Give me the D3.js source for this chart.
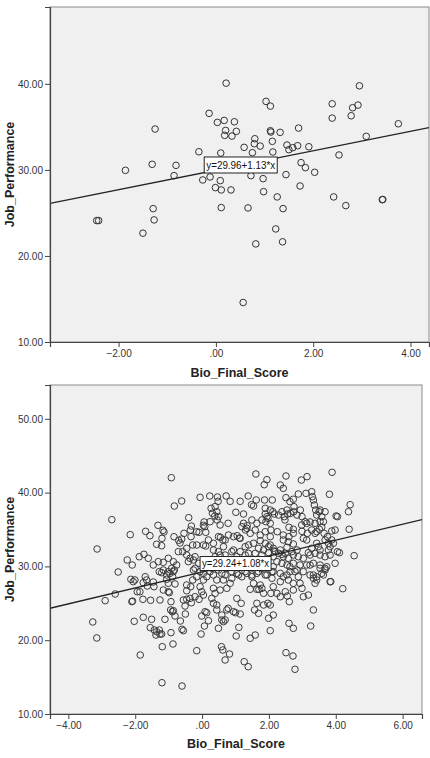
<!DOCTYPE html>
<html>
<head>
<meta charset="utf-8">
<script src="https://cdn.jsdelivr.net/npm/d3@7.9.0/dist/d3.min.js"></script>
<style>
  html, body { margin: 0; padding: 0; background: #fff; }
  svg { display: block; font-family: "Liberation Sans", Arial, sans-serif; }
</style>
</head>
<body>
<svg id="chart" width="430" height="758"></svg>
<script>
// ---- data ----
const xLabel = 'Bio_Final_Score';
const yLabel = 'Job_Performance';

// top panel (small sample)
const topPoints = [
  [0.21,40.08],[2.95,39.77],[1.03,37.96],[1.12,37.41],[2.39,37.68],[2.92,37.53],[2.81,37.22],
  [-0.14,36.57],[0.17,35.75],[0.03,35.52],[0.38,35.59],[2.39,36.02],[2.78,36.29],[3.75,35.36],
  [-1.25,34.75],[0.20,34.59],[0.42,34.48],[0.18,34.01],[0.33,33.93],[1.12,34.55],[1.13,34.40],
  [1.32,34.36],[1.70,34.86],[3.09,33.90],[0.80,33.62],[1.16,33.32],[0.79,33.04],[0.91,32.77],
  [0.58,32.62],[1.46,32.89],[1.50,32.35],[1.58,32.58],[1.68,32.81],[1.91,32.69],[-0.35,32.11],
  [0.10,31.96],[0.75,32.00],[1.17,32.08],[2.53,31.73],[-1.86,29.95],[-1.31,30.65],[-0.82,30.53],
  [-0.86,29.33],[-0.12,29.18],[-0.27,28.83],[0.09,28.75],[0.72,29.33],[0.97,28.98],[1.44,29.45],
  [1.75,30.84],[1.84,30.26],[2.03,29.72],[1.73,28.13],[-0.01,27.94],[0.11,27.67],[0.31,27.67],
  [0.98,27.47],[1.26,26.86],[2.42,26.86],[2.67,25.85],[3.42,26.54],[3.43,26.56],[0.11,25.62],
  [0.66,25.58],[1.38,25.50],[-1.29,25.50],[-1.27,24.19],[-2.45,24.11],[-2.41,24.11],[-1.50,22.65],
  [1.23,23.14],[0.82,21.40],[1.37,21.64],[0.56,14.59]
];

// bottom panel (full sample)
const bottomPoints = [
  [-0.92,42.02],[1.61,42.52],[1.94,41.75],[1.86,41.07],[2.51,42.25],[3.14,42.16],[2.97,41.7],[3.89,42.75],
  [2.34,41.03],[2.43,40.58],[2.51,39.31],[2.73,39.1],[2.88,39.81],[3.11,39.9],[3.28,40.12],[3.30,39.45],
  [3.33,39.0],[3.36,38.32],[3.40,37.64],[3.43,36.96],[3.50,37.41],[3.58,36.74],[3.63,36.06],[3.81,39.77],
  [4.01,36.83],[4.05,36.74],[4.43,38.36],[4.38,37.41],[4.40,35.03],[4.55,31.45],[3.98,34.93],[3.88,34.8],
  [-3.14,32.36],[-2.70,36.33],[-2.15,34.30],[-1.69,34.75],[-1.56,34.16],[-1.32,35.57],[-1.17,34.89],[-1.14,34.66],
  [-0.83,38.18],[-0.61,38.86],[-0.84,34.02],[-0.70,33.53],[-0.66,33.17],[-0.61,33.71],[-0.54,34.48],
  [-1.36,33.0],[-1.21,32.8],[-1.20,33.8],[-0.40,36.6],[-0.32,35.47],[-0.35,34.93],
  [-0.06,39.36],[0.23,39.54],[0.46,39.4],[0.72,39.54],[0.84,38.82],[0.48,38.82],
  [1.14,38.82],[1.38,39.54],[1.62,39.0],[1.87,39.0],[2.10,39.0],[1.48,38.36],[1.54,38.18],
  [1.01,37.33],[1.24,37.1],[0.31,37.2],[0.38,36.83],[0.06,36.02],[0.04,35.57],[0.08,35.38],
  [0.49,36.74],[0.45,36.29],[0.78,35.84],[0.39,38.1],[0.27,37.87],[0.44,37.41],[0.24,36.06],[0.54,35.61],
  [-0.09,34.62],[0.11,34.62],[-0.33,34.03],[-0.16,34.7],
  [-0.28,32.9],[-0.16,32.9],[0.04,32.9],[0.11,32.76],[0.55,33.94],[0.62,33.58],[0.94,34.03],[1.05,34.16],[1.12,33.85],
  [1.24,35.84],[1.35,35.52],[1.30,34.93],[1.79,36.29],[1.91,36.06],[1.97,36.51],[1.94,36.74],[1.89,37.1],
  [2.16,37.1],[2.29,36.96],[1.49,36.29],[1.64,35.84],[2.04,35.84],[1.89,37.87],[2.04,37.64],
  [1.19,35.38],[1.34,35.16],[1.44,34.48],[1.59,34.93],[1.74,34.25],[1.89,34.7],[2.04,34.03],[1.14,33.8],
  [0.79,34.25],[0.69,33.58],[0.49,34.03],[0.34,33.13],[0.19,33.58],
  [2.39,37.41],[2.54,37.64],[2.56,37.1],[2.46,36.74],[2.06,34.93],[2.25,34.7],[2.43,34.25],[2.60,34.03],
  [2.73,34.48],[2.60,35.3],[2.73,35.03],
  [2.12,37.41],[2.64,37.18],[2.74,37.41],[2.48,36.29],[2.98,35.61],[3.13,35.84],[3.28,34.93],[3.43,34.7],
  [3.58,35.3],[3.68,33.58],[3.78,33.13],[3.48,32.67],[3.03,33.8],
  [3.08,36.06],[3.23,36.02],[3.38,35.84],[3.53,36.06],[2.99,34.75],[3.15,34.48],[3.38,34.48],[3.51,35.03],[3.65,34.48],
  [3.75,34.03],[3.88,33.58],[3.93,33.13],[3.83,32.67],[3.78,32.22],[3.13,33.58],[3.43,33.13],[3.28,32.45],
  [3.53,32.22],[3.18,31.86],[4.05,32.0],[4.11,31.86],
  [2.43,33.58],[2.58,33.35],[2.73,33.04],[2.54,32.59],[2.69,32.0],[2.84,32.22],[2.39,31.64],
  [1.54,33.13],[1.74,33.49],[1.89,33.13],[2.04,32.9],[1.69,32.45],[1.84,32.22],[1.99,31.86],[2.16,32.09],
  [2.29,31.77],[2.13,31.31],[1.39,32.9],[1.99,32.67],[2.13,32.45],[1.59,31.77],[1.79,31.54],
  [0.94,32.22],[1.14,32.0],[1.29,32.67],[1.39,31.77],[1.04,31.31],[0.34,32.22],[0.49,32.0],[0.64,32.67],
  [0.54,31.54],[0.39,31.31],[0.69,31.54],[0.89,32.0],[1.29,31.54],
  [-0.58,32.0],[-0.46,31.54],[-0.36,31.1],[-0.21,31.31],[-0.46,32.45],[-0.71,32.0],[-0.41,30.64],[-0.26,30.87],
  [3.53,37.64],[3.68,37.41],[2.63,38.77],[2.75,38.09],[2.94,37.64],[2.84,36.96],[2.99,36.74],
  [2.19,32.0],[2.34,32.22],[2.49,31.77],[2.43,31.31],[2.58,31.1],[2.73,31.54],[2.88,31.31],[3.03,31.1],
  [3.23,31.54],[3.38,31.77],[3.53,31.54],[3.68,31.31],[3.83,31.54],
  [2.24,30.64],[2.39,30.42],[2.54,30.19],[2.93,30.19],[3.13,30.19],[3.33,30.42],[3.53,30.19],[3.68,29.74],
  [2.13,29.29],[2.54,28.84],[2.78,29.29],[3.03,29.29],[3.23,28.84],[3.43,28.59],[3.63,28.84],[3.33,28.39],
  [3.83,27.93],[2.09,28.39],[2.34,27.93],
  [-0.21,29.74],[-0.06,29.29],[0.09,30.19],[0.29,29.74],[0.69,28.84],[0.89,29.29],[1.09,28.84],[1.29,29.29],
  [1.49,28.84],[1.69,29.29],[1.89,28.84],[2.09,29.29],
  [-2.24,30.87],[-2.09,30.19],[-1.88,31.31],[-1.74,31.64],[-1.61,31.1],[-1.46,30.19],[-1.31,30.64],[-1.16,30.55],
  [-1.01,31.1],[-0.86,30.64],[-0.76,30.19],[-0.91,29.74],[-1.06,28.84],[-0.96,29.06],[-0.86,29.29],[-2.51,29.24],
  [-3.27,22.47],[-3.15,20.30],[-2.90,25.36],[-2.60,26.26],[-2.13,28.25],[-2.06,27.93],[-2.01,28.16],[-1.94,26.57],
  [-1.86,26.57],[-2.10,25.22],[-2.08,25.3],[-2.03,22.56],[-1.77,25.54],[-1.85,17.99],[-1.76,23.1],[-1.66,28.16],
  [-1.64,27.34],[-1.70,28.6],[-1.51,22.83],[-1.55,21.7],[-1.43,21.38],[-1.36,21.15],[-1.28,21.38],[-1.21,20.84],
  [-1.38,20.70],[-1.26,20.84],[-1.19,19.12],[-1.20,14.24],[-1.54,25.41],[-1.46,27.89],[-1.44,27.25],[-1.28,29.29],
  [-1.21,29.15],[-1.16,29.51],[-1.11,22.83],[-1.26,25.45],[-1.16,26.8],[-1.01,26.57],[-0.93,25.22],[-0.94,24.1],
  [-0.89,23.86],[-0.86,24.0],[-0.81,23.28],[-0.93,21.02],[-0.87,19.49],[-1.01,29.29],[-0.88,28.6],[-0.83,29.51],
  [-1.06,28.25],[-0.81,27.62],[-0.65,22.6],[-0.60,21.48],[-0.56,21.29],[-0.51,24.63],[-0.46,25.54],[-0.46,27.48],
  [-0.46,26.7],[-0.34,27.25],[-0.50,23.55],[-0.32,25.08],[-0.21,25.89],[-0.09,25.54],[-0.16,18.58],[-0.60,13.79],
  [-0.28,28.16],[-0.26,29.51],[-0.16,28.6],[-0.06,27.25],[-0.01,26.57],[0.04,28.16],[0.04,29.06],[0.06,30.19],
  [-0.10,30.42],[-0.01,23.28],[0.07,21.92],[-0.03,20.84],[0.19,22.64],[0.14,23.73],[0.34,25.0],[0.44,24.77],
  [0.44,24.1],[0.49,21.61],[0.59,22.74],[0.64,22.51],[0.69,22.74],[0.59,23.41],[0.74,24.1],[0.78,24.32],
  [0.58,19.12],[0.62,18.67],[0.69,17.32],[0.82,18.13],[0.39,26.35],[0.34,27.03],[0.54,26.8],[0.74,27.03],
  [0.84,27.71],[0.89,28.39],[0.64,28.16],[0.44,28.16],[0.14,28.6],[0.24,29.29],[0.34,28.84],[0.49,29.51],
  [0.59,29.06],[0.74,29.74],[0.94,29.96],[1.04,29.06],[1.19,28.6],[1.34,29.06],[1.00,23.73],[1.14,23.55],
  [1.02,20.57],[1.10,21.74],[1.17,25.0],[1.26,17.09],[1.38,16.41],[1.44,20.26],[1.59,20.7],[1.57,24.1],
  [1.69,23.64],[1.44,26.9],[1.64,26.9],[1.70,26.9],[1.79,27.03],[1.84,26.35],[1.54,27.71],[1.74,27.48],
  [1.97,25.0],[2.04,24.77],[1.99,22.97],[2.13,23.41],[2.04,21.29],[1.49,28.6],[1.64,29.06],[1.79,29.74],
  [1.94,28.84],[2.13,27.25],[2.24,26.35],[2.06,26.35],[2.34,25.89],[1.94,30.19],[2.13,29.96],[2.34,29.06],
  [2.49,26.57],[2.55,25.99],[2.61,25.22],[2.60,22.29],[2.73,21.61],[2.51,18.31],[2.72,17.86],[2.78,16.06],
  [2.43,28.6],[2.58,28.16],[2.73,27.71],[2.88,28.6],[2.84,29.51],[2.63,29.29],[2.93,27.71],[2.73,26.8],
  [2.99,27.03],[2.63,29.96],[2.73,30.42],[3.03,25.89],[3.18,26.12],[3.25,21.92],[3.33,24.10],[3.38,27.71],
  [3.43,28.16],[3.33,28.84],[3.58,29.06],[3.68,29.51],[3.73,29.96],[3.53,29.74],[3.23,30.19],[3.85,27.93],
  [4.21,26.98],[3.98,30.42],
  [-0.98,26.44],[-1.76,27.79],[-1.01,27.71],[-0.56,25.45],[-0.36,25.67],[0.04,26.12],[0.29,25.67],[1.04,25.67],
  [1.64,25.0],[1.84,24.77],[0.09,23.86],[0.94,23.86]
];

// fit lines: [intercept, slope]
const fitTop = [29.96, 1.13];
const fitBottom = [29.24, 1.08];
const fitLabels = ['y=29.96+1.13*x', 'y=29.24+1.08*x'];
// where SPSS put the label box (left edge / vertical centre, data units)
const labelAnchorTop = [-0.24, 30.57];
const labelAnchorBottom = [-0.06, 30.39];

const xTicksTop = [-2, 0, 2, 4];
const yTicksTop = [10, 20, 30, 40];
const xTicksBottom = [-4, -2, 0, 2, 4, 6];
const yTicksBottom = [10, 20, 30, 40, 50];

const xDomainTop = [-3.41, 4.38];
const yDomainTop = [10, 48.93];
const xDomainBottom = [-4.55, 6.58];
const yDomainBottom = [10, 54.58];

// SPSS style labels: 0 -> ".00"
const fmt = d => d3.format('.2f')(d).replace(/^0\./, '.').replace(/^-0\.00$/, '.00');

const svg = d3.select('#chart');

function drawPanel(opts) {
  const { left, top, width, height } = opts.box;
  const g = svg.append('g').attr('transform', `translate(${left},${top})`);

  const x = d3.scaleLinear().domain(opts.xDomain).range([0, width]);
  const y = d3.scaleLinear().domain(opts.yDomain).range([height, 0]);

  // plot background + frame
  g.append('rect')
    .attr('width', width).attr('height', height)
    .attr('fill', '#f0f0f0')
    .attr('stroke', '#8a8a8a')
    .attr('stroke-width', 1);

  const clipId = 'clip-' + opts.id;
  g.append('clipPath').attr('id', clipId)
    .append('rect').attr('width', width).attr('height', height);

  const inner = g.append('g').attr('clip-path', `url(#${clipId})`);

  inner.selectAll('circle')
    .data(opts.points)
    .enter()
    .append('circle')
    .attr('cx', d => x(d[0]))
    .attr('cy', d => y(d[1]))
    .attr('r', 3.3)
    .attr('fill', 'none')
    .attr('stroke', opts.dotColor)
    .attr('stroke-width', 1);

  // regression line across the whole x range
  const line = d3.line()
    .x(d => x(d))
    .y(d => y(opts.fit[0] + opts.fit[1] * d));
  inner.append('path')
    .datum(opts.xDomain)
    .attr('d', line)
    .attr('fill', 'none')
    .attr('stroke', '#222')
    .attr('stroke-width', 1.3);

  // equation label box
  const lx = x(opts.labelAnchor[0]);
  const ly = y(opts.labelAnchor[1]);
  const lab = g.append('g').attr('transform', `translate(${lx},${ly})`);
  lab.append('rect')
    .attr('x', 0).attr('y', -opts.labelH / 2)
    .attr('width', opts.labelW).attr('height', opts.labelH)
    .attr('fill', '#fff').attr('stroke', '#222').attr('stroke-width', 1);
  lab.append('text')
    .attr('x', 2).attr('y', 0)
    .attr('dy', '0.35em')
    .attr('font-size', opts.labelFont)
    .attr('textLength', opts.labelW - 4)
    .attr('lengthAdjust', 'spacingAndGlyphs')
    .attr('fill', '#111')
    .text(opts.label);

  // axes
  const xAxis = g.append('g')
    .attr('transform', `translate(0,${height})`)
    .call(d3.axisBottom(x).tickValues(opts.xTicks).tickFormat(fmt).tickSize(5).tickPadding(3));
  const yAxis = g.append('g')
    .call(d3.axisLeft(y).tickValues(opts.yTicks).tickFormat(fmt).tickSize(5).tickPadding(2));

  [xAxis, yAxis].forEach(a => {
    a.select('.domain').attr('stroke', '#444').attr('stroke-width', 1.2);
    a.selectAll('.tick line').attr('stroke', '#444');
    a.selectAll('.tick text')
      .attr('fill', '#333')
      .attr('font-size', 10)
      .attr('font-family', '"Liberation Sans", Arial, sans-serif');
  });

  // axis titles
  g.append('text')
    .attr('x', width / 2)
    .attr('y', height + opts.xTitleOffset)
    .attr('text-anchor', 'middle')
    .attr('font-size', 12.5)
    .attr('font-weight', 'bold')
    .attr('fill', '#222')
    .text(xLabel);

  g.append('text')
    .attr('transform', `translate(${-left + 14},${height / 2}) rotate(-90)`)
    .attr('text-anchor', 'middle')
    .attr('font-size', 12.5)
    .attr('font-weight', 'bold')
    .attr('fill', '#222')
    .text(yLabel);
}

drawPanel({
  id: 'top',
  box: { left: 50, top: 7, width: 379, height: 335 },
  xDomain: xDomainTop, yDomain: yDomainTop,
  xTicks: xTicksTop, yTicks: yTicksTop,
  points: topPoints, fit: fitTop,
  label: fitLabels[0], labelAnchor: labelAnchorTop,
  labelW: 73, labelH: 16, labelFont: 11.5,
  dotColor: '#333',
  xTitleOffset: 35
});

drawPanel({
  id: 'bottom',
  box: { left: 50, top: 385, width: 372, height: 329 },
  xDomain: xDomainBottom, yDomain: yDomainBottom,
  xTicks: xTicksBottom, yTicks: yTicksBottom,
  points: bottomPoints, fit: fitBottom,
  label: fitLabels[1], labelAnchor: labelAnchorBottom,
  labelW: 71, labelH: 14, labelFont: 11,
  dotColor: '#3c3c3c',
  xTitleOffset: 34
});
</script>
</body>
</html>
